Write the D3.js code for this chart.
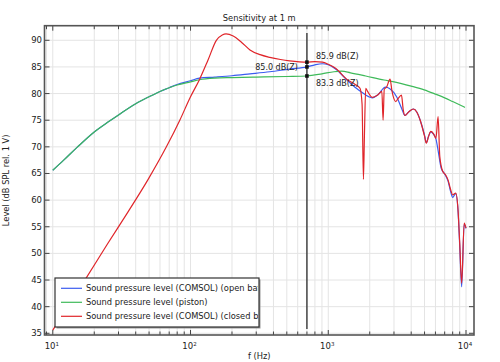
<!DOCTYPE html>
<html>
<head>
<meta charset="UTF-8">
<title>Sensitivity at 1 m</title>
<style>
    body { margin: 0; padding: 0; background: #fff; }
    svg { display: block; font-family: 'DejaVu Sans', sans-serif; }
    .grid line { stroke: #e4e4e4; stroke-width: 1; }
    .tick-label { font-size: 8.5px; fill: #222; }
    .curve { fill: none; stroke-width: 1.2; }
</style>
</head>
<body>
<svg></svg>
<script src="https://d3js.org/d3.v7.min.js"></script>
<script>

// data
let freqPiston = [10, 12, 15, 20, 25, 30, 40, 50, 60, 70, 80, 100, 116, 150, 200, 300, 500, 700, 900, 1100, 1250, 1450, 1870, 2540, 3000, 4000, 4970, 6000, 7000, 8000, 9830];
let splPiston  = [65.6, 67.5, 69.9, 72.8, 74.6, 76.0, 78.1, 79.4, 80.4, 81.1, 81.6, 82.2, 82.6, 82.9, 83.0, 83.1, 83.2, 83.3, 83.7, 84.1, 84.2, 83.9, 83.3, 82.55, 82.2, 81.4, 80.7, 79.9, 79.2, 78.5, 77.4];

let freqOpen = [10, 12, 15, 20, 25, 30, 40, 50, 60, 70, 80, 100, 116, 150, 200, 270, 376, 524, 700, 800, 905, 1000, 1130, 1375, 1600, 1720, 2090, 2300, 2600, 2800, 3150, 3400, 3600, 3850, 4150, 4400, 4650, 5000, 5150, 5350, 5550, 5800, 6050, 6300, 6600, 7000, 7400, 7750, 8000, 8420, 8750, 9000, 9300, 9700, 10000];
let splOpen  = [65.6, 67.5, 69.9, 72.8, 74.6, 76.0, 78.1, 79.4, 80.4, 81.1, 81.7, 82.4, 82.9, 83.1, 83.35, 83.7, 84.1, 84.6, 85.0, 85.4, 85.6, 85.4, 84.6, 82.5, 81.0, 80.4, 79.2, 79.8, 81.2, 80.9, 79.3, 77.3, 75.9, 76.6, 77.1, 76.5, 75.0, 72.2, 70.8, 72.0, 72.8, 72.4, 71.5, 69.0, 66.0, 64.9, 63.6, 61.5, 60.5, 61.2, 58.0, 51.5, 43.7, 55.5, 54.7];

let freqClosed = [10, 17.5, 25, 35, 49, 66.8, 83.6, 100, 116, 134, 154, 170, 181, 204, 235, 270, 320, 376, 450, 524, 700, 800, 905, 1000, 1130, 1375, 1550, 1700, 1760, 1800, 1830, 1870, 1920, 2090, 2300, 2450, 2500, 2550, 2650, 2810, 2900, 3090, 3200, 3400, 3500, 3600, 3850, 4150, 4400, 4650, 5000, 5150, 5350, 5550, 5800, 6050, 6270, 6450, 6770, 7100, 7400, 7750, 8000, 8420, 8750, 9000, 9300, 9700, 10000];
let splClosed  = [35.6, 45.4, 51.8, 57.7, 63.8, 70.0, 75.0, 79.4, 82.6, 86.3, 90.0, 91.0, 91.2, 90.8, 89.6, 88.2, 87.3, 86.8, 86.4, 86.15, 85.9, 86.0, 85.9, 85.5, 84.75, 82.6, 81.8, 81.0, 78.0, 63.9, 72.0, 81.0, 80.5, 79.3, 79.8, 80.4, 75.0, 80.8, 81.2, 82.7, 80.5, 78.5, 79.0, 79.7, 77.0, 75.9, 76.6, 77.1, 76.5, 75.0, 72.0, 70.7, 72.0, 72.9, 72.5, 71.6, 75.7, 68.2, 65.4, 64.75, 63.8, 61.9, 61.0, 61.3, 58.2, 52.0, 44.4, 55.7, 54.75];

let probeFreq = 700;
let probeValues = [85.9, 85.0, 83.3];
let probeLabels = ["85.9 dB(Z)", "85.0 dB(Z)", "83.3 dB(Z)"];

let yTicks = [35, 40, 45, 50, 55, 60, 65, 70, 75, 80, 85, 90];
let xMajor = [10, 100, 1000, 10000];

let legendLabels = ["Sound pressure level (COMSOL) (open baffle)", "Sound pressure level (piston)", "Sound pressure level (COMSOL) (closed box)"];
let colors = ["#3b5cf0", "#3fba5a", "#e0252a"];

// dimensions
let w = 500, h = 362;
let pLeft = 44.5, pRight = 474, pTop = 25.7, pBottom = 335;

let svg = d3.select("svg").attr("width", w).attr("height", h);

let x = d3.scaleLog().domain([8.706, 11430]).range([pLeft, pRight]);
let y = d3.scaleLinear().domain([34.68, 92.74]).range([pBottom, pTop]);

// minor tick positions (2..9 in each decade)
let xMinor = [];
[1, 10, 100, 1000].forEach(d => { for (let k = 2; k <= 9; k++) xMinor.push(d * k); });
xMinor = xMinor.filter(v => v > x.domain()[0] && v < x.domain()[1]);

// grid
let grid = svg.append("g").attr("class", "grid");
grid.selectAll(".gx").data(xMinor.concat(xMajor)).enter().append("line")
    .attr("x1", d => x(d)).attr("x2", d => x(d))
    .attr("y1", pTop).attr("y2", pBottom);
grid.selectAll(".gy").data(yTicks).enter().append("line")
    .attr("x1", pLeft).attr("x2", pRight)
    .attr("y1", d => y(d)).attr("y2", d => y(d));

// curves
svg.append("clipPath").attr("id", "plotclip")
    .append("rect").attr("x", pLeft).attr("y", pTop).attr("width", pRight - pLeft).attr("height", pBottom - pTop);

let line = d3.line().x(d => x(d[0])).y(d => y(d[1])).curve(d3.curveMonotoneX);
let series = [
    d3.zip(freqOpen, splOpen),
    d3.zip(freqPiston, splPiston),
    d3.zip(freqClosed, splClosed)
];
let curves = svg.append("g").attr("clip-path", "url(#plotclip)");
series.forEach((s, i) => {
    curves.append("path").attr("class", "curve")
        .attr("d", line(s))
        .attr("stroke", colors[i]);
});

// probe line and markers
svg.append("line")
    .attr("x1", x(probeFreq)).attr("x2", x(probeFreq))
    .attr("y1", 33).attr("y2", 329)
    .attr("stroke", "#1a1a1a").attr("stroke-width", 1.2);
svg.selectAll(".probe").data(probeValues).enter().append("rect")
    .attr("x", x(probeFreq) - 1.8).attr("y", d => y(d) - 1.8)
    .attr("width", 3.6).attr("height", 3.6).attr("fill", "#111");

let labelOffsets = [[9, -6, "start"], [-9, 0.5, "end"], [9, 7, "start"]];
svg.selectAll(".plabel").data(probeValues).enter().append("text")
    .attr("x", (d, i) => x(probeFreq) + labelOffsets[i][0])
    .attr("y", (d, i) => y(d) + labelOffsets[i][1])
    .attr("dy", "0.35em")
    .attr("text-anchor", (d, i) => labelOffsets[i][2])
    .attr("font-size", "8px").attr("fill", "#222")
    .text((d, i) => probeLabels[i]);

// ticks (inside, on all four sides)
let ticks = svg.append("g").attr("stroke", "#444").attr("stroke-width", 1);
xMajor.forEach(v => {
    ticks.append("line").attr("x1", x(v)).attr("x2", x(v)).attr("y1", pBottom).attr("y2", pBottom - 5);
    ticks.append("line").attr("x1", x(v)).attr("x2", x(v)).attr("y1", pTop).attr("y2", pTop + 5);
});
xMinor.forEach(v => {
    ticks.append("line").attr("x1", x(v)).attr("x2", x(v)).attr("y1", pBottom).attr("y2", pBottom - 3.5);
    ticks.append("line").attr("x1", x(v)).attr("x2", x(v)).attr("y1", pTop).attr("y2", pTop + 3.5);
});
yTicks.forEach(v => {
    ticks.append("line").attr("x1", pLeft).attr("x2", pLeft + 5).attr("y1", y(v)).attr("y2", y(v));
    ticks.append("line").attr("x1", pRight).attr("x2", pRight - 5).attr("y1", y(v)).attr("y2", y(v));
});

// frame
svg.append("rect")
    .attr("x", pLeft).attr("y", pTop).attr("width", pRight - pLeft).attr("height", pBottom - pTop)
    .attr("fill", "none").attr("stroke", "#555").attr("stroke-width", 1.6);

// tick labels
svg.selectAll(".ylab").data(yTicks).enter().append("text")
    .attr("class", "tick-label")
    .attr("x", pLeft - 2.5).attr("y", d => y(d)).attr("dy", "0.35em")
    .attr("text-anchor", "end").text(d => d);

let xl = svg.selectAll(".xlab").data(xMajor).enter().append("text")
    .attr("class", "tick-label")
    .attr("x", d => x(d) - 1).attr("y", 349)
    .attr("text-anchor", "middle");
xl.append("tspan").text("10");
xl.append("tspan").attr("font-size", "5.5px").attr("dy", "-3.5").text(d => Math.round(Math.log10(d)));

// titles
svg.append("text").attr("x", (pLeft + pRight) / 2).attr("y", 21)
    .attr("text-anchor", "middle").attr("font-size", "8.3px").attr("fill", "#222")
    .text("Sensitivity at 1 m");
svg.append("text").attr("x", (pLeft + pRight) / 2).attr("y", 359)
    .attr("text-anchor", "middle").attr("font-size", "8.3px").attr("fill", "#222")
    .text("f (Hz)");
svg.append("text")
    .attr("transform", `translate(9, ${(pTop + pBottom) / 2}) rotate(-90)`)
    .attr("text-anchor", "middle").attr("font-size", "8.3px").attr("fill", "#222")
    .text("Level (dB SPL rel. 1 V)");

// legend
let lg = svg.append("g").attr("transform", "translate(55,278)");
let lw = 204, lh = 49;
lg.append("rect").attr("x", 1.5).attr("y", 1.5).attr("width", lw).attr("height", lh).attr("fill", "#999");
lg.append("rect").attr("width", lw).attr("height", lh).attr("fill", "#fff")
    .attr("stroke", "#333").attr("stroke-width", 1.2);
lg.append("clipPath").attr("id", "legclip")
    .append("rect").attr("x", 0).attr("y", 0).attr("width", lw - 1).attr("height", lh);
let rows = lg.append("g").attr("clip-path", "url(#legclip)")
    .selectAll("g").data(legendLabels).enter().append("g")
    .attr("transform", (d, i) => `translate(0, ${10.3 + i * 14})`);
rows.append("line").attr("x1", 6).attr("x2", 27)
    .attr("stroke", (d, i) => colors[i]).attr("stroke-width", 1.2);
rows.append("text").attr("x", 31).attr("dy", "0.35em")
    .attr("font-size", "8.3px").attr("fill", "#222").text(d => d);

</script>
</body>
</html>
